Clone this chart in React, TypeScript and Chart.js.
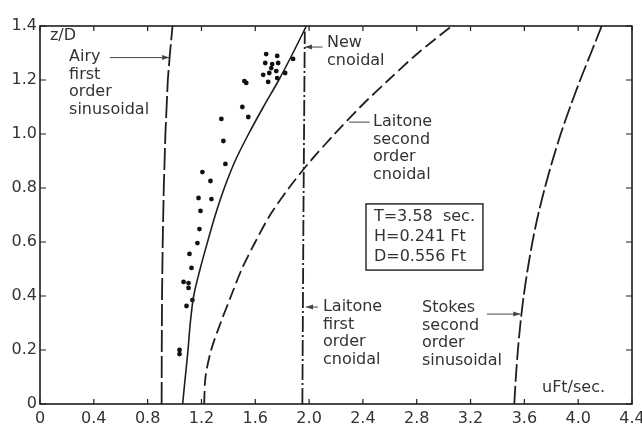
import React, { useEffect, useRef } from "react";
import { Chart, registerables } from "chart.js";

Chart.register(...registerables);

// ---- data ----
const xTicks = [0, 0.4, 0.8, 1.2, 1.6, 2.0, 2.4, 2.8, 3.2, 3.6, 4.0, 4.4];
const yTicks = [0, 0.2, 0.4, 0.6, 0.8, 1.0, 1.2, 1.4];

const dotX = [1.681, 1.763, 1.674, 1.726, 1.77, 1.719, 1.756, 1.659, 1.704, 1.696, 1.763, 1.822, 1.881, 1.519, 1.533, 1.504, 1.548, 1.348, 1.363, 1.378, 1.207, 1.267, 1.178, 1.274, 1.193, 1.185, 1.17, 1.111, 1.126, 1.067, 1.104, 1.104, 1.133, 1.089, 1.037, 1.037];
const dotY = [1.296, 1.289, 1.263, 1.259, 1.263, 1.244, 1.233, 1.219, 1.226, 1.193, 1.207, 1.226, 1.278, 1.196, 1.189, 1.1, 1.063, 1.056, 0.974, 0.889, 0.859, 0.826, 0.763, 0.759, 0.715, 0.648, 0.596, 0.556, 0.504, 0.452, 0.448, 0.43, 0.385, 0.363, 0.2, 0.185];

const airyX = [0.904, 0.905, 0.907, 0.912, 0.92, 0.932, 0.95, 0.966, 0.985];
const airyY = [0, 0.2, 0.4, 0.6, 0.8, 1.0, 1.2, 1.3, 1.4];

const newCnX = [1.06, 1.08, 1.1, 1.117, 1.142, 1.19, 1.245, 1.303, 1.37, 1.45, 1.55, 1.66, 1.775, 1.88, 1.98];
const newCnY = [0, 0.1, 0.2, 0.3, 0.4, 0.5, 0.6, 0.7, 0.8, 0.9, 1.0, 1.1, 1.2, 1.3, 1.4];

const laitone1X = [1.95, 1.958, 1.968];
const laitone1Y = [0, 0.7, 1.38];

const laitone2X = [1.22, 1.23, 1.272, 1.342, 1.42, 1.5, 1.6, 1.71, 1.85, 2.01, 2.19, 2.38, 2.59, 2.81, 3.06];
const laitone2Y = [0, 0.1, 0.2, 0.3, 0.4, 0.5, 0.6, 0.7, 0.8, 0.9, 1.0, 1.1, 1.2, 1.3, 1.4];

const stokesX = [3.525, 3.537, 3.552, 3.571, 3.595, 3.625, 3.66, 3.702, 3.752, 3.808, 3.87, 3.94, 4.015, 4.095, 4.175];
const stokesY = [0, 0.1, 0.2, 0.3, 0.4, 0.5, 0.6, 0.7, 0.8, 0.9, 1.0, 1.1, 1.2, 1.3, 1.4];

const boxLines = ["T=3.58  sec.", "H=0.241 Ft", "D=0.556 Ft"];

const pts = (xs: number[], ys: number[]) => xs.map((x, i) => ({ x, y: ys[i] }));

const INK = "#1e1e1e";
const TEXT = "#333";
const FONT = "'DejaVu Sans', sans-serif";

type Note = { lines: string[]; x: number; y: number };
type Arrow = { x1: number; x2: number; y: number; head: boolean };

const notes: Note[] = [
  { lines: ["z/D"], x: 0.074, y: 1.363 },
  { lines: ["Airy", "first", "order", "sinusoidal"], x: 0.216, y: 1.285 },
  { lines: ["New", "cnoidal"], x: 2.133, y: 1.337 },
  { lines: ["Laitone", "second", "order", "cnoidal"], x: 2.475, y: 1.044 },
  { lines: ["Laitone", "first", "order", "cnoidal"], x: 2.103, y: 0.359 },
  { lines: ["Stokes", "second", "order", "sinusoidal"], x: 2.839, y: 0.356 },
  { lines: ["uFt/sec."], x: 3.731, y: 0.059 },
];

const arrows: Arrow[] = [
  { x1: 0.52, x2: 0.96, y: 1.283, head: true },
  { x1: 2.1, x2: 1.97, y: 1.322, head: true },
  { x1: 2.45, x2: 2.297, y: 1.044, head: false },
  { x1: 2.066, x2: 1.977, y: 0.359, head: true },
  { x1: 3.322, x2: 3.57, y: 0.333, head: true },
];

const overlay = {
  id: "overlay",
  afterDraw(chart: any) {
    const { ctx, chartArea: a, scales } = chart;
    const sx = scales.x, sy = scales.y;
    const px = (v: number) => sx.getPixelForValue(v);
    const py = (v: number) => sy.getPixelForValue(v);
    ctx.save();
    // frame
    ctx.strokeStyle = INK;
    ctx.lineWidth = 1.6;
    ctx.strokeRect(a.left, a.top, a.right - a.left, a.bottom - a.top);
    // inward ticks
    ctx.lineWidth = 1.2;
    ctx.beginPath();
    xTicks.forEach((t) => {
      const x = px(t);
      ctx.moveTo(x, a.bottom);
      ctx.lineTo(x, a.bottom - 5);
      ctx.moveTo(x, a.top);
      ctx.lineTo(x, a.top + 5);
    });
    yTicks.forEach((t) => {
      const y = py(t);
      ctx.moveTo(a.left, y);
      ctx.lineTo(a.left + 6, y);
      ctx.moveTo(a.right, y);
      ctx.lineTo(a.right - 6, y);
    });
    ctx.stroke();
    // notes
    ctx.fillStyle = TEXT;
    ctx.font = `16px ${FONT}`;
    ctx.textAlign = "left";
    ctx.textBaseline = "middle";
    notes.forEach((n) => {
      n.lines.forEach((l, i) => ctx.fillText(l, px(n.x), py(n.y) + i * 17.5));
    });
    // arrows
    ctx.strokeStyle = "#444";
    ctx.fillStyle = "#444";
    ctx.lineWidth = 1;
    arrows.forEach((ar) => {
      const x1 = px(ar.x1), x2 = px(ar.x2), y = py(ar.y);
      ctx.beginPath();
      ctx.moveTo(x1, y);
      ctx.lineTo(x2, y);
      ctx.stroke();
      if (ar.head) {
        const d = x2 > x1 ? 1 : -1;
        ctx.beginPath();
        ctx.moveTo(x2, y);
        ctx.lineTo(x2 - d * 7, y - 2.5);
        ctx.lineTo(x2 - d * 7, y + 2.5);
        ctx.closePath();
        ctx.fill();
      }
    });
    // parameter box
    const bl = px(2.423), bt = py(0.741), br = px(3.292), bb = py(0.496);
    ctx.strokeStyle = INK;
    ctx.lineWidth = 1.4;
    ctx.strokeRect(bl, bt, br - bl, bb - bt);
    ctx.fillStyle = TEXT;
    boxLines.forEach((l, i) => ctx.fillText(l, px(2.482), py(0.693) + i * 20));
    ctx.restore();
  },
};

export default function App() {
  const ref = useRef<HTMLCanvasElement>(null);
  useEffect(() => {
    if (!ref.current) return;
    const line = (data: any, dash: number[], width = 1.8, tension = 0.3) => ({
      data,
      showLine: true,
      borderColor: INK,
      borderWidth: width,
      borderDash: dash,
      pointRadius: 0,
      tension,
      fill: false,
    });
    const fmt = (v: any) => (Number(v) === 0 ? "0" : Number(v).toFixed(1));
    const chart = new Chart(ref.current, {
      type: "scatter",
      data: {
        datasets: [
          line(pts(airyX, airyY), [22, 4], 1.8, 0) as any,
          line(pts(newCnX, newCnY), [], 1.6) as any,
          line(pts(laitone1X, laitone1Y), [16, 3, 2, 3], 1.8, 0) as any,
          line(pts(laitone2X, laitone2Y), [13, 5]) as any,
          line(pts(stokesX, stokesY), [18, 4]) as any,
          {
            data: pts(dotX, dotY),
            showLine: false,
            pointRadius: 2.4,
            pointBackgroundColor: "#111",
            pointBorderWidth: 0,
          } as any,
        ],
      },
      options: {
        animation: false,
        responsive: true,
        maintainAspectRatio: false,
        layout: { padding: { top: 26, right: 10, left: 0, bottom: 0 } },
        plugins: { legend: { display: false }, tooltip: { enabled: false } },
        scales: {
          x: {
            type: "linear",
            min: 0,
            max: 4.4,
            grid: { display: false, drawTicks: false },
            border: { display: false },
            ticks: {
              stepSize: 0.4,
              autoSkip: false,
              maxRotation: 0,
              minRotation: 0,
              padding: 5,
              color: TEXT,
              font: { family: FONT, size: 16 },
              callback: fmt,
            },
            afterFit: (s: any) => {
              s.height = 23;
              s.paddingLeft = 0;
              s.paddingRight = 0;
            },
          },
          y: {
            type: "linear",
            min: 0,
            max: 1.4,
            grid: { display: false, drawTicks: false },
            border: { display: false },
            ticks: {
              stepSize: 0.2,
              autoSkip: false,
              padding: 3,
              color: TEXT,
              font: { family: FONT, size: 16 },
              callback: fmt,
            },
            afterFit: (s: any) => {
              s.width = 40;
              s.paddingTop = 0;
              s.paddingBottom = 0;
            },
          },
        },
      },
      plugins: [overlay],
    });
    return () => chart.destroy();
  }, []);
  return (
    <div style={{ position: "absolute", left: 0, top: 0, width: 642, height: 427, background: "#fff" }}>
      <canvas ref={ref} />
    </div>
  );
}
